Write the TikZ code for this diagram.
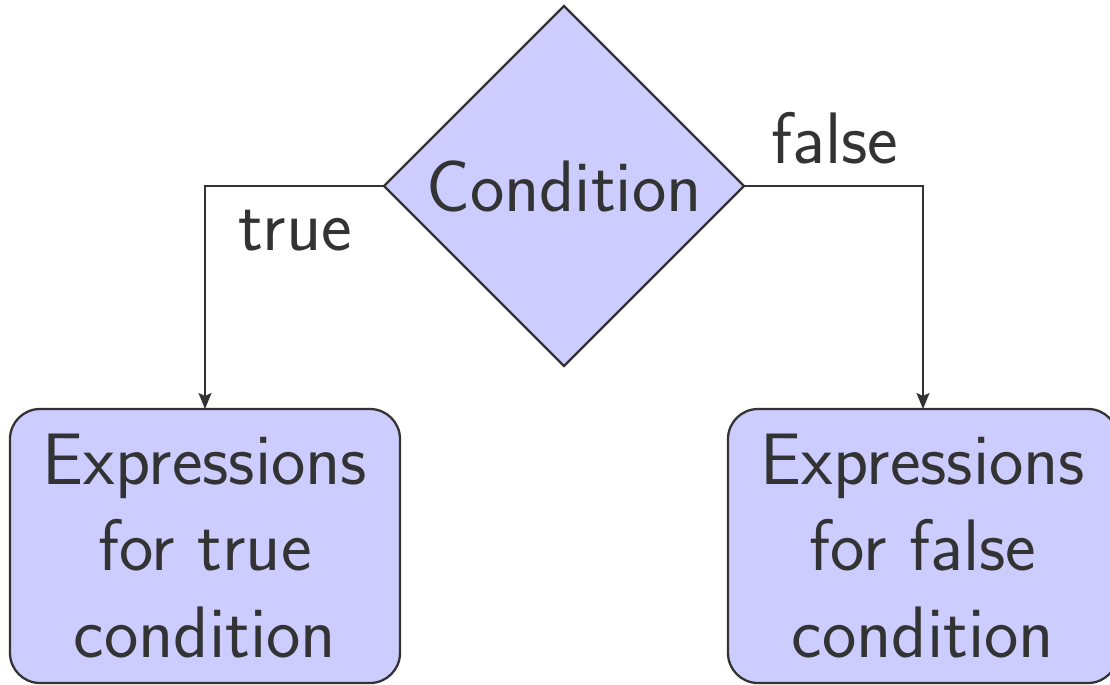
\documentclass[tikz,border=0pt]{standalone}
\usetikzlibrary{shapes.geometric,arrows.meta}
\definecolor{ink}{HTML}{333333}
\begin{document}
\begin{tikzpicture}[
  every node/.style={font=\sffamily\fontsize{41.5}{49}\selectfont, text=ink},
  shapebox/.style={draw=ink, fill=blue!20, line width=1.3pt},
  decision/.style={shapebox, diamond, minimum width=7.2cm, minimum height=7.2cm, inner sep=0pt, outer sep=0pt},
  block/.style={shapebox, rectangle, rounded corners=0.6cm, minimum width=7.8cm, minimum height=5.48cm, align=center, inner sep=0pt, outer sep=0pt},
  conn/.style={draw=ink, line width=1pt, -{Stealth[length=3.2mm,width=2.6mm,inset=0.6mm]}},
  lab/.style={anchor=base, inner sep=0pt}
]
\useasboundingbox (0,0) rectangle (22.2,-13.68);
\clip (0,0) rectangle (22.2,-13.68);
\node[decision] (cond) at (11.28,-3.72) {Condition};
\node[block] (tbox) at (4.1,-10.92) {Expressions\\for true\\condition};
\node[block] (fbox) at (18.46,-10.92) {Expressions\\for false\\condition};
\draw[conn] (cond.west) -| (tbox.north);
\draw[conn] (cond.east) -| (fbox.north);
\node[lab] (tl) at (5.9,-5.0) {true};
\node[lab] (fl) at (16.7,-3.26) {false};
\end{tikzpicture}
\end{document}
